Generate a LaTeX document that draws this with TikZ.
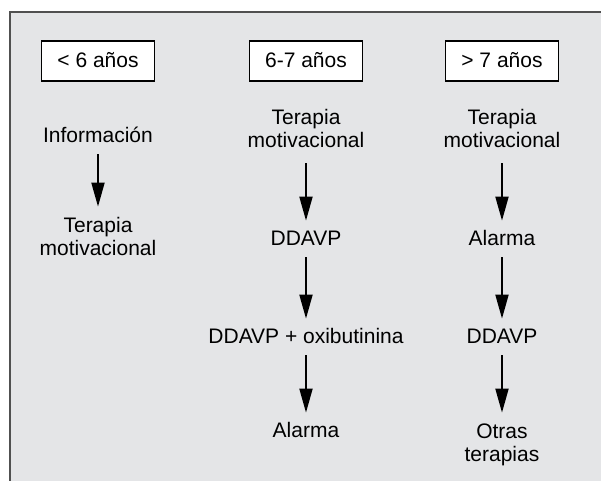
\documentclass[tikz,border=0pt]{standalone}
\usepackage{fontspec}
\setmainfont{Liberation Sans}
\usetikzlibrary{matrix,arrows.meta,calc,backgrounds}
\definecolor{panelgray}{RGB}{228,229,231}
\definecolor{framegray}{RGB}{80,80,80}
\def\TwoLines#1#2{\begin{tabular}{@{}c@{}}#1\\#2\end{tabular}}
\tikzset{
  agebox/.style={draw,fill=white,line width=0.75pt,minimum width=56.5pt,minimum height=20pt,inner sep=0pt},
  oneline/.style={text height=8pt,text depth=2pt,inner ysep=4pt},
  twoline/.style={text height=,text depth=,inner ysep=4.5pt},
  flowarrow/.style={-{Triangle[length=12pt,width=6.5pt]},line width=1pt}
}
\def\TreatmentGrid{
    \matrix (flow)
    [matrix of nodes,
    ampersand replacement=\&,
    column sep={104pt,between origins},
    row sep={49pt,between origins},
    nodes={anchor=center,inner xsep=0pt,font=\fontsize{10.5}{11.5}\selectfont,oneline} ]
    {
     |[agebox]| < 6 años \& |[agebox]| 6-7 años \&[-6pt] |[agebox]| > 7 años \\[-14pt]
     |[yshift=-2.5pt]| Información \& |[twoline]| \TwoLines{Terapia}{motivacional} \& |[twoline]| \TwoLines{Terapia}{motivacional} \\[5pt]
     |[twoline]| \TwoLines{Terapia}{motivacional} \& DDAVP \& Alarma \\
     \& DDAVP + oxibutinina \& DDAVP \\[-2pt]
     \& Alarma \& |[twoline,yshift=-7pt]| \TwoLines{Otras}{terapias} \\
};
}

\begin{document}
\begin{tikzpicture}
    \TreatmentGrid
    \coordinate (origin) at (flow-1-1.center);
    \coordinate (panelNW) at ($(origin)+(-44pt,24.5pt)$);
    \coordinate (panelSW) at ($(origin)+(-44pt,-210pt)$);
    \coordinate (panelNE) at ($(origin)+(251.5pt,24.5pt)$);
    \coordinate (panelSE) at ($(origin)+(251.5pt,-210pt)$);
    \useasboundingbox ($(origin)+(-49pt,30.5pt)$) rectangle (panelSE);
    \begin{scope}[on background layer]
      \fill[panelgray] (panelNW) rectangle (panelSE);
      \draw[framegray,line width=0.6pt] (panelSW) -- (panelNW) -- (panelNE);
    \end{scope}
    \draw[flowarrow] (flow-2-1.south) -- (flow-3-1.north);
    \draw[flowarrow] (flow-2-2.south) -- (flow-3-2.north);
    \draw[flowarrow] (flow-3-2.south) -- (flow-4-2.north);
    \draw[flowarrow] (flow-4-2.south) -- (flow-5-2.north);
    \draw[flowarrow] (flow-2-3.south) -- (flow-3-3.north);
    \draw[flowarrow] (flow-3-3.south) -- (flow-4-3.north);
    \draw[flowarrow] (flow-4-3.south) -- (flow-5-3.north);
\end{tikzpicture}
\end{document}
